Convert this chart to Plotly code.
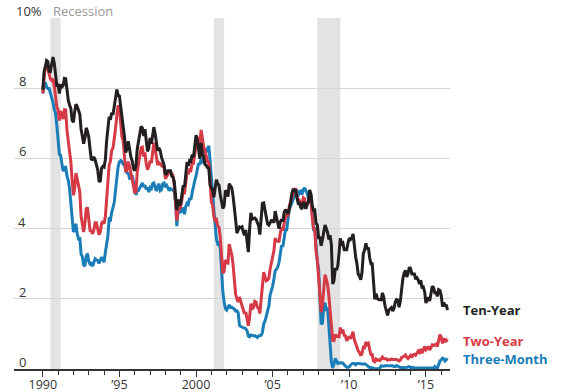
import pandas as pd
import plotly.graph_objects as go

# Monthly yields, Jan 1990 - Jun 2016 (percent)
ten_year = [
    7.95, 8.47, 8.59, 8.79, 8.76, 8.48, 8.47, 8.75, 8.89, 8.72, 8.39, 8.08,
    8.09, 7.85, 8.11, 8.04, 8.07, 8.28, 8.27, 7.90, 7.65, 7.53, 7.42, 7.09,
    7.03, 7.34, 7.54, 7.48, 7.39, 7.26, 6.84, 6.59, 6.42, 6.59, 6.87, 6.77,
    6.60, 6.26, 5.98, 5.97, 6.04, 5.96, 5.81, 5.68, 5.36, 5.33, 5.72, 5.77,
    5.75, 5.97, 6.48, 6.97, 7.18, 7.10, 7.30, 7.24, 7.46, 7.74, 7.96, 7.81,
    7.78, 7.47, 7.20, 7.06, 6.63, 6.17, 6.28, 6.49, 6.20, 6.04, 5.93, 5.71,
    5.65, 5.81, 6.27, 6.51, 6.74, 6.91, 6.87, 6.64, 6.83, 6.53, 6.20, 6.30,
    6.58, 6.42, 6.69, 6.89, 6.71, 6.49, 6.22, 6.30, 6.21, 6.03, 5.88, 5.81,
    5.54, 5.57, 5.65, 5.64, 5.65, 5.50, 5.46, 5.34, 4.81, 4.53, 4.83, 4.65,
    4.72, 5.00, 5.23, 5.18, 5.54, 5.90, 5.79, 5.94, 5.92, 6.11, 6.03, 6.28,
    6.66, 6.52, 6.26, 5.99, 6.44, 6.10, 6.05, 5.83, 5.80, 5.74, 5.72, 5.24,
    5.16, 5.10, 4.89, 5.14, 5.39, 5.28, 5.24, 4.97, 4.73, 4.57, 4.65, 5.09,
    5.04, 4.91, 5.28, 5.21, 5.16, 4.93, 4.65, 4.26, 3.87, 3.94, 4.05, 4.03,
    4.05, 3.90, 3.81, 3.96, 3.57, 3.33, 3.98, 4.45, 4.27, 4.29, 4.30, 4.27,
    4.15, 4.08, 3.83, 4.35, 4.72, 4.73, 4.50, 4.28, 4.13, 4.10, 4.19, 4.23,
    4.22, 4.17, 4.50, 4.34, 4.14, 4.00, 4.18, 4.26, 4.20, 4.46, 4.54, 4.47,
    4.42, 4.57, 4.72, 4.99, 5.11, 5.11, 5.09, 4.88, 4.72, 4.73, 4.60, 4.56,
    4.76, 4.72, 4.56, 4.69, 4.75, 5.10, 5.00, 4.67, 4.52, 4.53, 4.15, 4.10,
    3.74, 3.74, 3.51, 3.68, 3.88, 4.10, 4.01, 3.89, 3.69, 3.81, 3.53, 2.42,
    2.52, 2.87, 2.82, 2.93, 3.29, 3.72, 3.56, 3.59, 3.40, 3.39, 3.40, 3.59,
    3.73, 3.69, 3.73, 3.85, 3.42, 3.20, 3.01, 2.70, 2.65, 2.54, 2.76, 3.29,
    3.39, 3.58, 3.41, 3.46, 3.17, 3.00, 3.00, 2.30, 1.98, 2.15, 2.01, 1.98,
    1.97, 1.97, 2.17, 2.05, 1.80, 1.62, 1.53, 1.68, 1.72, 1.75, 1.65, 1.72,
    1.91, 1.98, 1.96, 1.76, 1.93, 2.30, 2.58, 2.74, 2.81, 2.62, 2.72, 2.90,
    2.86, 2.71, 2.72, 2.71, 2.56, 2.60, 2.54, 2.42, 2.53, 2.30, 2.33, 2.21,
    1.88, 1.98, 2.04, 1.94, 2.20, 2.36, 2.32, 2.17, 2.17, 2.07, 2.26, 2.24,
    2.09, 1.78, 1.89, 1.81, 1.81, 1.68,
]

two_year = [
    7.85, 8.39, 8.63, 8.60, 8.55, 8.40, 8.26, 8.22, 8.27, 8.07, 7.74, 7.47,
    7.38, 7.08, 7.35, 7.23, 7.12, 7.39, 7.38, 6.80, 6.50, 6.23, 5.90, 5.39,
    4.95, 5.15, 5.58, 5.41, 5.22, 5.05, 4.36, 4.11, 3.90, 4.14, 4.56, 4.60,
    4.24, 3.94, 3.93, 3.85, 3.95, 4.17, 4.17, 4.00, 3.83, 3.90, 4.14, 4.21,
    4.14, 4.35, 4.88, 5.36, 5.80, 5.92, 6.23, 6.29, 6.53, 6.85, 7.23, 7.51,
    7.44, 7.07, 6.62, 6.51, 6.03, 5.62, 5.66, 5.91, 5.77, 5.61, 5.43, 5.22,
    5.01, 5.06, 5.62, 5.92, 6.07, 6.30, 6.32, 6.05, 6.17, 5.84, 5.68, 5.77,
    5.93, 5.87, 6.22, 6.45, 6.28, 6.01, 5.81, 5.88, 5.85, 5.79, 5.75, 5.74,
    5.42, 5.49, 5.58, 5.61, 5.63, 5.56, 5.51, 5.23, 4.70, 4.23, 4.59, 4.56,
    4.62, 4.88, 5.05, 4.98, 5.25, 5.62, 5.55, 5.68, 5.66, 5.86, 5.86, 6.10,
    6.44, 6.61, 6.53, 6.40, 6.81, 6.48, 6.34, 6.23, 6.08, 5.91, 5.88, 5.35,
    4.76, 4.66, 4.34, 4.23, 4.26, 4.08, 4.04, 3.76, 3.12, 2.73, 2.78, 3.11,
    3.03, 3.02, 3.56, 3.42, 3.26, 2.99, 2.56, 2.13, 2.00, 1.91, 2.05, 1.93,
    1.74, 1.63, 1.57, 1.62, 1.42, 1.23, 1.47, 1.86, 1.71, 1.75, 1.93, 1.91,
    1.76, 1.74, 1.58, 2.07, 2.53, 2.76, 2.64, 2.51, 2.53, 2.58, 2.85, 3.01,
    3.22, 3.38, 3.73, 3.65, 3.64, 3.64, 3.87, 4.04, 3.95, 4.17, 4.33, 4.38,
    4.35, 4.64, 4.74, 4.89, 4.97, 5.12, 5.12, 4.90, 4.77, 4.80, 4.74, 4.67,
    4.88, 4.85, 4.57, 4.67, 4.77, 4.96, 4.82, 4.31, 4.01, 3.97, 3.34, 3.12,
    2.48, 1.97, 1.62, 1.83, 2.26, 2.69, 2.57, 2.42, 2.08, 1.61, 1.21, 0.82,
    0.81, 0.98, 0.93, 0.93, 0.92, 1.18, 1.02, 1.12, 0.96, 0.95, 0.80, 0.87,
    0.93, 0.86, 0.96, 1.06, 0.83, 0.72, 0.62, 0.52, 0.47, 0.38, 0.45, 0.62,
    0.61, 0.77, 0.70, 0.73, 0.56, 0.41, 0.41, 0.23, 0.21, 0.28, 0.25, 0.26,
    0.24, 0.28, 0.34, 0.29, 0.29, 0.29, 0.25, 0.27, 0.26, 0.28, 0.27, 0.26,
    0.27, 0.27, 0.26, 0.23, 0.25, 0.33, 0.34, 0.36, 0.40, 0.34, 0.30, 0.34,
    0.39, 0.33, 0.40, 0.42, 0.39, 0.45, 0.51, 0.47, 0.57, 0.45, 0.53, 0.64,
    0.55, 0.62, 0.64, 0.54, 0.61, 0.69, 0.67, 0.70, 0.71, 0.64, 0.88, 0.98,
    0.90, 0.73, 0.88, 0.77, 0.82, 0.78,
]

three_month = [
    7.85, 8.00, 8.17, 8.04, 7.99, 7.99, 7.87, 7.69, 7.60, 7.40, 7.29, 6.95,
    6.41, 6.12, 6.09, 5.83, 5.63, 5.75, 5.75, 5.50, 5.37, 5.14, 4.69, 4.18,
    3.91, 3.95, 4.14, 3.84, 3.72, 3.75, 3.28, 3.20, 2.97, 2.93, 3.21, 3.29,
    3.07, 2.99, 3.01, 2.93, 3.03, 3.14, 3.11, 3.09, 3.01, 3.09, 3.18, 3.13,
    3.04, 3.33, 3.59, 3.78, 4.27, 4.25, 4.46, 4.61, 4.75, 5.10, 5.45, 5.76,
    5.90, 5.94, 5.91, 5.84, 5.85, 5.64, 5.59, 5.57, 5.43, 5.44, 5.52, 5.29,
    5.15, 4.96, 5.10, 5.09, 5.15, 5.23, 5.30, 5.19, 5.24, 5.12, 5.17, 5.04,
    5.17, 5.14, 5.28, 5.30, 5.20, 5.07, 5.19, 5.28, 5.08, 5.11, 5.28, 5.30,
    5.18, 5.23, 5.16, 5.08, 5.14, 5.12, 5.09, 5.04, 4.74, 4.07, 4.53, 4.50,
    4.45, 4.56, 4.57, 4.41, 4.63, 4.72, 4.69, 4.87, 4.82, 5.02, 5.23, 5.36,
    5.50, 5.73, 5.86, 5.82, 5.99, 5.86, 6.14, 6.28, 6.18, 6.29, 6.36, 5.94,
    5.29, 5.01, 4.54, 3.97, 3.70, 3.57, 3.59, 3.44, 2.69, 2.20, 1.91, 1.72,
    1.68, 1.76, 1.83, 1.75, 1.76, 1.73, 1.71, 1.65, 1.66, 1.61, 1.25, 1.21,
    1.19, 1.19, 1.15, 1.15, 1.09, 0.94, 0.92, 0.97, 0.96, 0.94, 0.95, 0.91,
    0.90, 0.94, 0.95, 0.96, 1.04, 1.29, 1.36, 1.50, 1.68, 1.79, 2.11, 2.22,
    2.37, 2.58, 2.80, 2.84, 2.90, 3.04, 3.29, 3.52, 3.49, 3.79, 3.97, 3.97,
    4.34, 4.54, 4.63, 4.72, 4.84, 4.92, 5.08, 5.09, 4.93, 5.05, 5.07, 4.97,
    5.11, 5.16, 5.08, 5.01, 4.87, 4.74, 4.96, 4.32, 3.99, 4.00, 3.35, 3.07,
    2.82, 2.17, 1.28, 1.31, 1.76, 1.89, 1.66, 1.75, 1.15, 0.69, 0.19, 0.03,
    0.13, 0.30, 0.21, 0.16, 0.18, 0.18, 0.18, 0.17, 0.12, 0.07, 0.05, 0.05,
    0.06, 0.11, 0.15, 0.16, 0.16, 0.12, 0.16, 0.16, 0.15, 0.13, 0.14, 0.14,
    0.15, 0.13, 0.10, 0.06, 0.04, 0.04, 0.04, 0.02, 0.01, 0.02, 0.01, 0.01,
    0.03, 0.09, 0.08, 0.08, 0.09, 0.09, 0.10, 0.10, 0.11, 0.10, 0.09, 0.07,
    0.07, 0.10, 0.09, 0.06, 0.04, 0.05, 0.04, 0.04, 0.02, 0.05, 0.07, 0.07,
    0.04, 0.05, 0.05, 0.03, 0.03, 0.04, 0.03, 0.03, 0.02, 0.02, 0.02, 0.03,
    0.03, 0.02, 0.03, 0.02, 0.02, 0.02, 0.03, 0.07, 0.02, 0.02, 0.12, 0.23,
    0.26, 0.31, 0.29, 0.23, 0.27, 0.30,
]

dates = pd.date_range("1990-01-01", periods=len(ten_year), freq="MS")

recessions = [("1990-07-01", "1991-03-01"), ("2001-03-01", "2001-11-01"), ("2007-12-01", "2009-06-01")]

y_ticks = [2, 4, 6, 8]
x_tick_vals = ["1990-01-01", "1995-01-01", "2000-01-01", "2005-01-01", "2010-01-01", "2015-01-01"]
x_tick_text = ["1990", "\u201995", "2000", "\u201905", "\u201910", "\u201915"]
minor_years = [f"{y}-01-01" for y in range(1991, 2017) if y % 5 != 0]

series = [
    ("Three-Month", three_month, "#1a7db8", -1),
    ("Two-Year", two_year, "#d63a46", 1),
    ("Ten-Year", ten_year, "#231f20", 0),
]

FONT = "Open Sans"
fig = go.Figure()

for name, vals, color, _ in series:
    fig.add_trace(go.Scatter(x=dates, y=vals, mode="lines", name=name,
                             line=dict(color=color, width=3), showlegend=False,
                             hoverinfo="skip"))

for x0, x1 in recessions:
    fig.add_shape(type="rect", xref="x", yref="y", x0=x0, x1=x1, y0=0, y1=10,
                  fillcolor="#e3e3e3", line=dict(width=0), layer="below")

annotations = []
annotations.append(dict(xref="paper", yref="y", x=0, y=10, text="10%", showarrow=False,
                        xanchor="left", yanchor="middle", yshift=7,
                        font=dict(family=FONT, size=13, color="#333333")))
annotations.append(dict(xref="paper", yref="y", x=0.085, y=10, text="Recession", showarrow=False,
                        xanchor="left", yanchor="middle", yshift=7,
                        font=dict(family=FONT, size=13, color="#999999")))
for v in y_ticks + [0]:
    annotations.append(dict(xref="paper", yref="y", x=0.031, y=v, text=str(v), showarrow=False,
                            xanchor="right", yanchor="middle", yshift=7,
                            font=dict(family=FONT, size=13, color="#333333")))
for name, vals, color, shift in series:
    annotations.append(dict(xref="x", yref="y", x=dates[-1], y=vals[-1], text=f"<b>{name}</b>",
                            showarrow=False, xanchor="left", yanchor="middle", xshift=13, yshift=shift,
                            font=dict(family=FONT, size=13, color=color)))

fig.update_layout(
    width=571, height=392,
    margin=dict(l=14, r=121, t=18, b=23, autoexpand=False),
    paper_bgcolor="white", plot_bgcolor="white",
    annotations=annotations,
    xaxis=dict(type="date", range=["1988-02-15", "2016-07-28"], showgrid=False, zeroline=False,
               automargin=False,
               showline=True, linecolor="#333333", linewidth=1.5,
               ticks="outside", ticklen=6, tickwidth=1.2, tickcolor="#333333",
               tickmode="array", tickvals=x_tick_vals, ticktext=x_tick_text,
               ticklabelstandoff=-3,
               tickfont=dict(family=FONT, size=12.5, color="#333333"),
               minor=dict(ticks="outside", ticklen=4, tickwidth=1.2, tickcolor="#333333",
                          tickmode="array", tickvals=minor_years, showgrid=False)),
    yaxis=dict(range=[0, 10], showgrid=True, gridcolor="#d6d6d6", gridwidth=1,
               automargin=False,
               tickmode="array", tickvals=y_ticks + [10], showticklabels=False,
               zeroline=False, showline=False),
)

# remove the page's default 8px body margin so the figure sits at the window's corner
fig.write_html("out.html", config={"displayModeBar": False},
               post_script="document.body.style.margin='0';")
